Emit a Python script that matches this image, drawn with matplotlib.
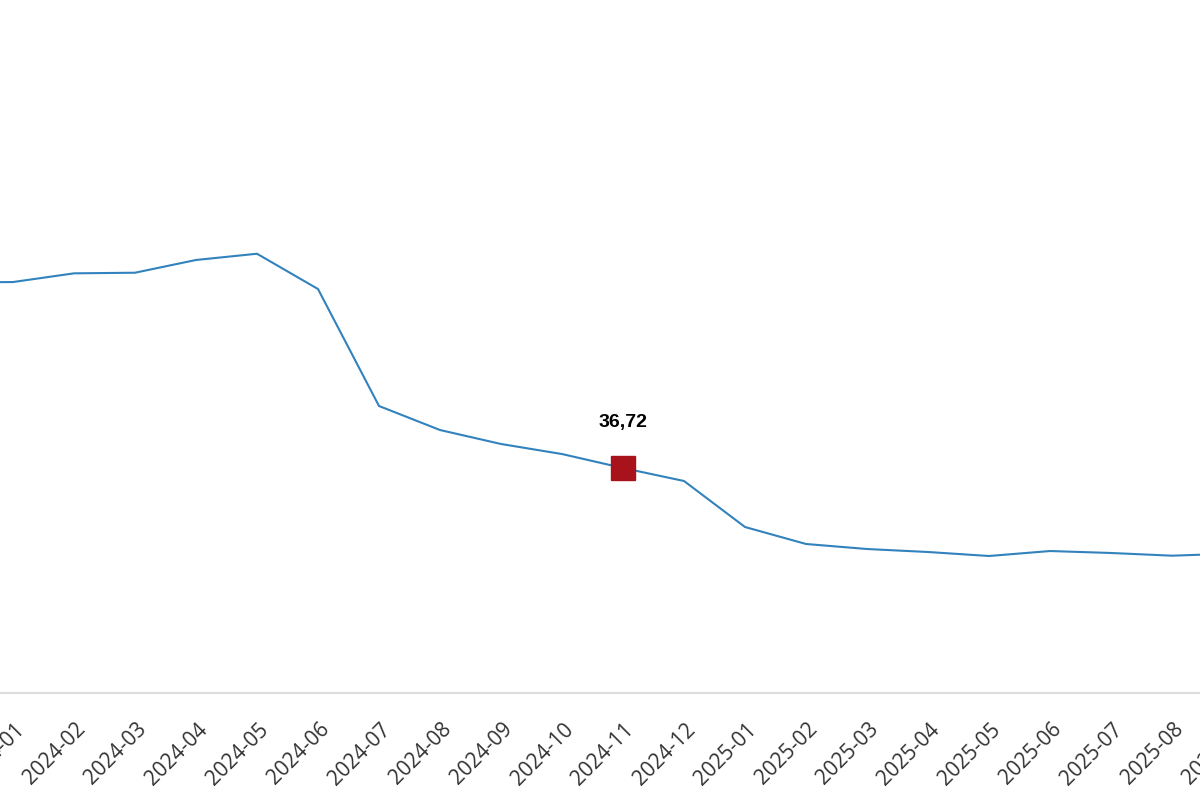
import matplotlib
matplotlib.use("Agg")
import matplotlib.pyplot as plt
import matplotlib.transforms as mtransforms

# monthly series (2023-12 sits just outside the visible window)
months = ["2023-12", "2024-01", "2024-02", "2024-03", "2024-04", "2024-05",
          "2024-06", "2024-07", "2024-08", "2024-09", "2024-10", "2024-11",
          "2024-12", "2025-01", "2025-02", "2025-03", "2025-04", "2025-05",
          "2025-06", "2025-07", "2025-08", "2025-09"]
values = [67.0, 67.07, 68.49, 68.59, 70.67, 71.69, 65.93, 46.84, 42.92,
          40.64, 39.00, 36.72, 34.60, 27.09, 24.32, 23.50, 23.01, 22.36,
          23.17, 22.85, 22.41, 22.75]

highlight_month = "2024-11"
highlight_label = "36,72"

x = list(range(-1, len(months) - 1))   # 2024-01 -> 0
hi = months.index(highlight_month)

# the chart is a crop of a wider one: axes run past the right edge
px_per_month = 61
x_left = -13 / px_per_month
x_right = 20.5
width = (x_right - x_left) * px_per_month / 1200

fig = plt.figure(figsize=(12, 8), dpi=100)
ax = fig.add_axes([0, 107 / 800, width, 693 / 800])

ax.plot(x, values, color="#3182bd", linewidth=1.5)
ax.plot(x[hi], values[hi], marker="s", markersize=17, color="#a8121a",
        linestyle="none")
ax.annotate(highlight_label, (x[hi], values[hi]), xytext=(0, 33),
            textcoords="offset points", ha="center", va="center",
            fontsize=14, fontweight="bold", family="Liberation Sans",
            color="black")

ax.set_xticks(x[1:])
ax.set_xticklabels(months[1:], rotation=45, ha="right", va="center",
                   rotation_mode="anchor", fontsize=15, family="Open Sans",
                   color="#333333")
ax.tick_params(axis="x", length=0, pad=24)
offset = mtransforms.ScaledTranslation(8 / 100, 0, fig.dpi_scale_trans)
for lab in ax.get_xticklabels():
    lab.set_transform(lab.get_transform() + offset)

ax.set_xlim(x_left, x_right)
ax.set_ylim(0, 113.1)

ax.set_yticks([])
for side in ["top", "left", "right"]:
    ax.spines[side].set_visible(False)
ax.spines["bottom"].set_color("#dddddd")
ax.spines["bottom"].set_linewidth(1.5)

fig.savefig("out.png", dpi=100)
